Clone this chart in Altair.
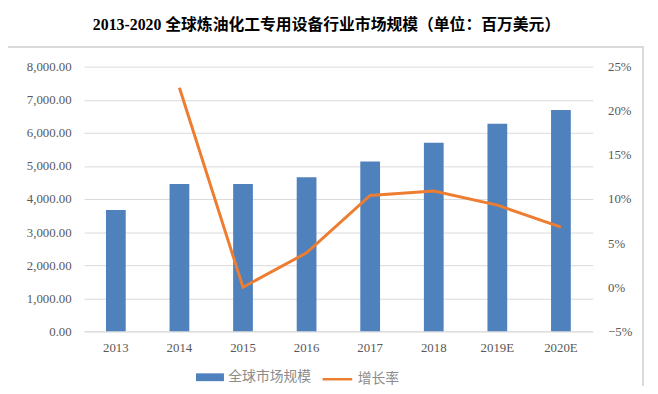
import altair as alt
import pandas as pd

years = ["2013", "2014", "2015", "2016", "2017", "2018", "2019E", "2020E"]
market = [3670, 4450, 4450, 4660, 5135, 5700, 6270, 6690]
growth = [None, 0.226, 0.000, 0.039, 0.104, 0.109, 0.093, 0.068]

df = pd.DataFrame({"year": years, "market": market, "growth": growth,
                   "s1": "全球市场规模", "s2": "增长率"})

serif = "Times New Roman, Liberation Serif, Noto Sans CJK SC"
sans = "Noto Sans CJK SC, Microsoft YaHei, sans-serif"

x = alt.X("year:N", sort=years, title=None,
          scale=alt.Scale(paddingInner=0.69, paddingOuter=0.345),
          axis=alt.Axis(labelAngle=0, ticks=False, domainColor="#d9d9d9",
                        labelFont=serif, labelFontSize=13, labelColor="#595959",
                        labelPadding=10))

bars = alt.Chart(df).mark_bar(size=20).encode(
    x=x,
    y=alt.Y("market:Q", title=None,
            scale=alt.Scale(domain=[0, 8000]),
            axis=alt.Axis(values=list(range(0, 8001, 1000)), format=",.2f",
                          ticks=False, domain=False, gridColor="#d9d9d9",
                          labelFont=serif, labelFontSize=13, labelColor="#595959",
                          labelPadding=13)),
    fill=alt.Fill("s1:N", title=None,
                  scale=alt.Scale(domain=["全球市场规模"], range=["#4f81bd"]),
                  legend=alt.Legend(orient="none", legendX=113, legendY=300,
                                    symbolType="M-1,-0.28L1,-0.28L1,0.28L-1,0.28Z",
                                    symbolSize=800, symbolStrokeWidth=0,
                                    labelFont=sans, labelFontSize=14,
                                    labelColor="#8c8c8c")),
)

line = alt.Chart(df).transform_filter("datum.growth != null").mark_line(
    strokeWidth=3).encode(
    x=x,
    y=alt.Y("growth:Q", title=None,
            scale=alt.Scale(domain=[-0.05, 0.25]),
            axis=alt.Axis(values=[-0.05, 0, 0.05, 0.1, 0.15, 0.2, 0.25], format=".0%",
                          orient="right", ticks=False, domain=False, grid=False,
                          labelFont=serif, labelFontSize=13, labelColor="#595959",
                          labelPadding=15)),
    stroke=alt.Stroke("s2:N", title=None,
                      scale=alt.Scale(domain=["增长率"], range=["#ed7d31"]),
                      legend=alt.Legend(orient="none", legendX=240, legendY=300,
                                        symbolType="stroke", symbolSize=900,
                                        symbolStrokeWidth=2.5,
                                        labelFont=sans, labelFontSize=14,
                                        labelColor="#8c8c8c")),
)

frame = alt.Chart(df).mark_rect(fill=None, stroke="#d9d9d9", strokeWidth=1).encode(
    x=alt.value(-80), x2=alt.value(566), y=alt.value(-20), y2=alt.value(330))

chart = alt.layer(frame, bars, line).resolve_scale(
    y="independent", fill="independent", stroke="independent"
).properties(
    width=515, height=268,
    autosize=alt.AutoSizeParams(type="none"),
    padding={"left": 77, "top": 57, "right": 58, "bottom": 53},
    title=alt.TitleParams("2013-2020 全球炼油化工专用设备行业市场规模（单位：百万美元）",
                          font=serif, fontSize=16, fontWeight="bold", color="#000000",
                          anchor="middle", dx=-12, offset=14),
).configure_view(stroke=None)

chart.save("out.html", embed_options={"renderer": "svg", "actions": False})
